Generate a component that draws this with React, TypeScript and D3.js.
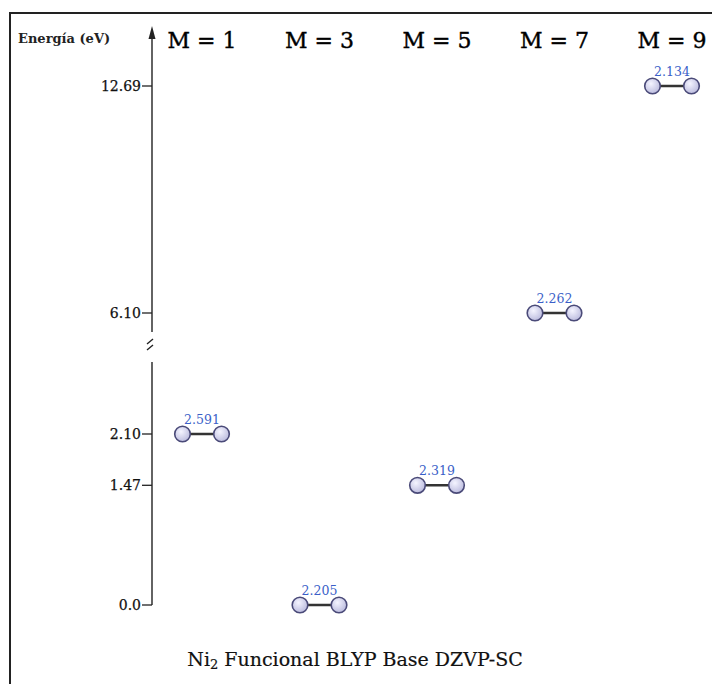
import React from "react";
import * as d3 from "d3";

const categories = ["M = 1", "M = 3", "M = 5", "M = 7", "M = 9"];
const energies = [2.10, 0.0, 1.47, 6.10, 12.69];
const bondLengths = ["2.591", "2.205", "2.319", "2.262", "2.134"];
const tickValues = [0.0, 1.47, 2.10, 6.10, 12.69];
const tickLabels = ["0.0", "1.47", "2.10", "6.10", "12.69"];

const W = 712;
const H = 684;
const AXIS_X = 152;

export default function App() {
  const x = d3.scalePoint<string>().domain(categories).range([202, 672]);
  const y = d3.scaleLinear().domain([0, 2.10, 6.10, 12.69]).range([605, 434, 313, 86]);
  const serif = "'DejaVu Serif', serif";
  const half = 19.5;
  const r = 7.8;

  return (
    <svg width={W} height={H} style={{ position: "absolute", left: 0, top: 0, background: "#fff" }}
      xmlns="http://www.w3.org/2000/svg">
      <defs>
        <radialGradient id="atom" cx="40%" cy="35%" r="70%">
          <stop offset="0%" stopColor="#f4f4ff" />
          <stop offset="100%" stopColor="#b8b8dc" />
        </radialGradient>
      </defs>
      {/* frame */}
      <line x1={10} y1={13} x2={W} y2={13} stroke="#222" strokeWidth={2} />
      <line x1={10} y1={12} x2={10} y2={H} stroke="#222" strokeWidth={2} />

      {/* y axis label */}
      <text x={18} y={43} fontFamily={serif} fontWeight="bold" fontSize={13} fill="#222">Energía  (eV)</text>

      {/* axis upper segment with arrow */}
      <line x1={AXIS_X} y1={34} x2={AXIS_X} y2={332} stroke="#222" strokeWidth={1.4} />
      <path d={`M${AXIS_X},26 L${AXIS_X - 3.5},39 L${AXIS_X + 3.5},39 Z`} fill="#222" />
      {/* break marks */}
      <line x1={AXIS_X - 5} y1={344} x2={AXIS_X + 1} y2={339} stroke="#222" strokeWidth={1.4} />
      <line x1={AXIS_X - 5} y1={350} x2={AXIS_X + 1} y2={345} stroke="#222" strokeWidth={1.4} />
      {/* axis lower segment */}
      <line x1={AXIS_X} y1={362} x2={AXIS_X} y2={y(0)} stroke="#222" strokeWidth={1.4} />

      {/* ticks */}
      {tickValues.map((v, i) => (
        <g key={i}>
          <line x1={AXIS_X - 10} y1={y(v)} x2={AXIS_X} y2={y(v)} stroke="#222" strokeWidth={1.3} />
          <text x={AXIS_X - 11} y={y(v)} dy="0.35em" textAnchor="end" fontFamily={serif}
            fontSize={14} fill="#111" stroke="#111" strokeWidth={0.25}>{tickLabels[i]}</text>
        </g>
      ))}

      {/* category labels */}
      {categories.map((c) => (
        <text key={c} x={x(c)} y={48} textAnchor="middle" fontFamily={serif} fontSize={22}
          fill="#000" stroke="#000" strokeWidth={0.4}>{c}</text>
      ))}

      {/* molecules */}
      {categories.map((c, i) => {
        const cx = x(c)!;
        const cy = y(energies[i]);
        return (
          <g key={c}>
            <line x1={cx - half} y1={cy} x2={cx + half} y2={cy} stroke="#333" strokeWidth={2.5} />
            <circle cx={cx - half} cy={cy} r={r} fill="url(#atom)" stroke="#4a4a78" strokeWidth={1.6} />
            <circle cx={cx + half} cy={cy} r={r} fill="url(#atom)" stroke="#4a4a78" strokeWidth={1.6} />
            <text x={cx} y={cy - 10} textAnchor="middle" fontFamily={serif} fontSize={12.5}
              fill="#3a5fc8">{bondLengths[i]}</text>
          </g>
        );
      })}

      {/* title */}
      <text x={355} y={666} textAnchor="middle" fontFamily={serif} fontSize={19} fill="#111"
        stroke="#111" strokeWidth={0.2}>
        Ni<tspan fontSize={13} dy={3}>2</tspan><tspan dy={-3}> Funcional BLYP Base DZVP-SC</tspan>
      </text>
    </svg>
  );
}
